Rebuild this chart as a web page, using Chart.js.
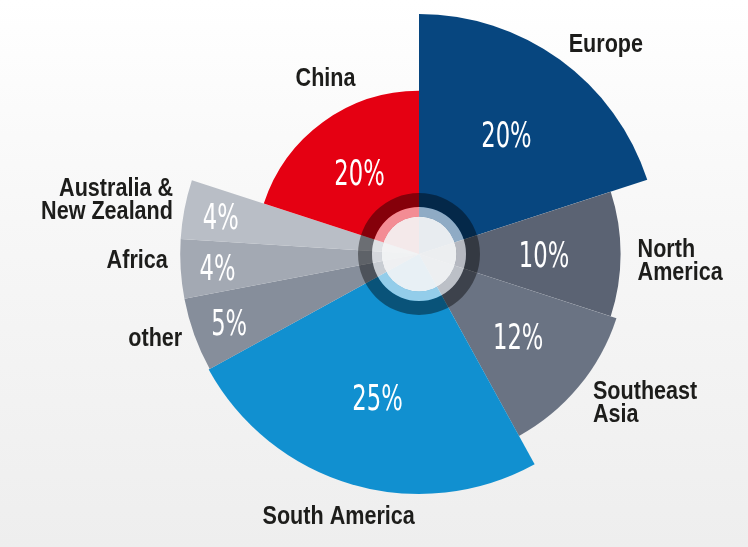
<!DOCTYPE html>
<html>
<head>
<meta charset="utf-8">
<script src="https://cdn.jsdelivr.net/npm/chart.js@4.4.1/dist/chart.umd.min.js"></script>
<style>
  html, body { margin: 0; padding: 0; }
  body {
    width: 748px; height: 547px; overflow: hidden;
    background: linear-gradient(to bottom, #ffffff 0%, #f7f7f7 40%, #eeeeee 100%);
  }
  #chart { display: block; }
</style>
</head>
<body>
<canvas id="chart" width="748" height="547"></canvas>
<script>
// regions, clockwise from 12 o'clock
const regions = [
  ['Europe'],
  ['North', 'America'],
  ['Southeast', 'Asia'],
  ['South America'],
  ['other'],
  ['Africa'],
  ['Australia &', 'New Zealand'],
  ['China']
];
const shares = [20, 10, 12, 25, 5, 4, 4, 20];
// relative length of each slice (1 = longest)
const reach = [1.0, 0.84, 0.865, 1.0, 0.995, 0.995, 0.995, 0.68];
const shareLabels = shares.map(v => v + '%');
const colors = ['#07467f', '#5b6373', '#6a7383', '#1190d0', '#868e9b', '#a3a9b3', '#b9bec6', '#e50012'];

// stretch every arc to its own length
const reachPlugin = {
  id: 'reach',
  afterDatasetsUpdate(chart) {
    const meta = chart.getDatasetMeta(0);
    const maxR = chart.options.radius;
    meta.data.forEach((arc, i) => {
      arc.outerRadius = maxR * reach[i];
    });
  }
};

// dark and light rings round the hub
const hubPlugin = {
  id: 'hub',
  afterDatasetsDraw(chart) {
    const arc = chart.getDatasetMeta(0).data[0];
    const ctx = chart.ctx;
    const cx = arc.x, cy = arc.y;
    ctx.save();
    ctx.beginPath();
    ctx.arc(cx, cy, 61, 0, Math.PI * 2);
    ctx.arc(cx, cy, 47, 0, Math.PI * 2, true);
    ctx.fillStyle = 'rgba(0,0,0,0.42)';
    ctx.fill();
    ctx.beginPath();
    ctx.arc(cx, cy, 47, 0, Math.PI * 2);
    ctx.arc(cx, cy, 37.5, 0, Math.PI * 2, true);
    ctx.fillStyle = 'rgba(255,255,255,0.55)';
    ctx.fill();
    ctx.beginPath();
    ctx.arc(cx, cy, 37.5, 0, Math.PI * 2);
    ctx.fillStyle = 'rgba(244,245,247,0.95)';
    ctx.fill();
    ctx.restore();
  }
};

// percentages inside, region names outside
const labelPlugin = {
  id: 'sliceLabels',
  afterDraw(chart, args, opts) {
    const ctx = chart.ctx;
    const meta = chart.getDatasetMeta(0);
    const nudge = opts.nudge || [];
    ctx.save();
    meta.data.forEach((arc, i) => {
      const mid = (arc.startAngle + arc.endAngle) / 2;
      const ux = Math.cos(mid), uy = Math.sin(mid);
      const R = arc.outerRadius;

      // share
      const rIn = shares[i] >= 10 ? R * 0.62 : R - 37;
      ctx.save();
      ctx.translate(arc.x + ux * rIn, arc.y + uy * rIn + 4);
      ctx.scale(0.72, 1);
      ctx.font = '400 35px "DejaVu Sans Condensed", "Liberation Sans", sans-serif';
      ctx.fillStyle = '#ffffff';
      ctx.textAlign = 'center';
      ctx.textBaseline = 'middle';
      ctx.fillText(shareLabels[i], 0, 0);
      ctx.restore();

      // name
      const lines = chart.data.labels[i];
      const lh = 23, sx = 0.83;
      ctx.font = '700 26px "Liberation Sans", Arial, sans-serif';
      const widths = lines.map(t => ctx.measureText(t).width * sx);
      const w = Math.max(...widths);
      const h = lines.length * lh;
      const rOut = R + 22;
      const [nx, ny] = nudge[i] || [0, 0];
      const bx = arc.x + ux * rOut + ux * w / 2 + nx;
      const by = arc.y + uy * rOut + uy * h / 2 + ny;
      ctx.fillStyle = '#1d1d1b';
      ctx.textBaseline = 'middle';
      ctx.textAlign = 'left';
      lines.forEach((t, k) => {
        let x;
        if (ux > 0.3) x = bx - w / 2;
        else if (ux < -0.3) x = bx + w / 2 - widths[k];
        else x = bx - widths[k] / 2;
        ctx.save();
        ctx.translate(x, by - h / 2 + lh / 2 + k * lh);
        ctx.scale(sx, 1);
        ctx.fillText(t, 0, 0);
        ctx.restore();
      });
    });
    ctx.restore();
  }
};

new Chart(document.getElementById('chart').getContext('2d'), {
  type: 'pie',
  data: {
    labels: regions,
    datasets: [{
      data: shares,
      backgroundColor: colors,
      borderWidth: 0
    }]
  },
  options: {
    responsive: false,
    animation: false,
    radius: 240,
    layout: { padding: { left: 90, right: 0, top: 0, bottom: 39 } },
    plugins: {
      legend: { display: false },
      tooltip: { enabled: false },
      sliceLabels: {
        // small label shifts, px
        nudge: [[11, 12], [-5, 7], [9, -12], [14, 0], [7, -7], [9, -10], [9, 0], [33, -16]]
      }
    }
  },
  plugins: [reachPlugin, hubPlugin, labelPlugin]
});
</script>
</body>
</html>
